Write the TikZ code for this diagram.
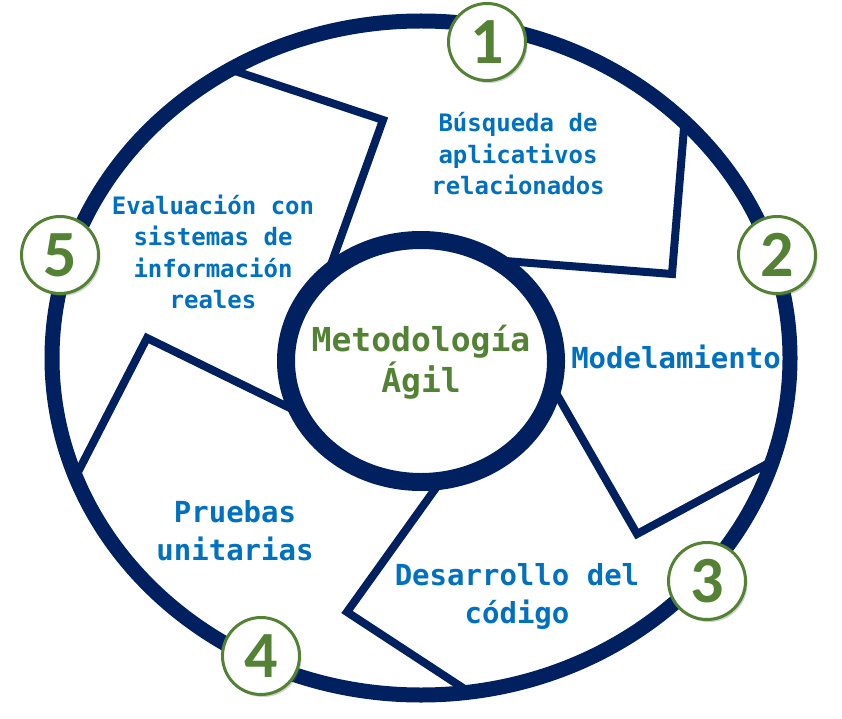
\documentclass[tikz,border=0pt]{standalone}
\usepackage{fontspec}
\newfontfamily\monof{DejaVu Sans Mono}
\newfontfamily\numf{Carlito}
\usetikzlibrary{shadows}
\definecolor{navy}{HTML}{002060}
\definecolor{txtblue}{HTML}{0070C0}
\definecolor{lgreen}{HTML}{548235}
\begin{document}
\begin{tikzpicture}[x=1pt,y=-1pt,
  sepline/.style={draw=navy,line width=8pt,line join=miter},
  numc/.style={circle,draw=lgreen,line width=3pt,fill=white,minimum size=77pt,inner sep=0pt,
     font=\numf\bfseries\fontsize{66}{66}\selectfont,text=lgreen,
     drop shadow={opacity=0.3,shadow xshift=2pt,shadow yshift=-2.5pt,fill=black!60}},
  lbl/.style={align=center,text=txtblue,inner sep=0pt,font=\monof\bfseries\fontsize{24}{31.5}\selectfont},
  lblbig/.style={align=center,text=txtblue,inner sep=0pt,font=\monof\bfseries\fontsize{29}{38}\selectfont},
  core/.style={align=center,text=lgreen,inner sep=0pt,font=\monof\bfseries\fontsize{33}{41}\selectfont}]
\useasboundingbox (0,0) rectangle (842,719);
\fill[white] (0,0) rectangle (842,719);

% boundary coordinates: inner end, notch, outer end
\coordinate (b1i) at (318.6,299.2); \coordinate (b1n) at (383,120); \coordinate (b1o) at (194.5,57.6);
\coordinate (b2i) at (456.4,257.2); \coordinate (b2n) at (672,274); \coordinate (b2o) at (687.6,84.2);
\coordinate (b3i) at (529.2,346.4); \coordinate (b3n) at (637,534); \coordinate (b3o) at (806,443);
\coordinate (b4i) at (467.4,444);   \coordinate (b4n) at (347,612); \coordinate (b4o) at (497.8,710.8);
\coordinate (b5i) at (347.2,436);   \coordinate (b5n) at (147,338); \coordinate (b5o) at (57.3,512.2);

\begin{scope}
  \clip (421,358) ellipse [x radius=369,y radius=337];
  \draw[sepline] (b1i) -- (b1n) -- (b1o);
  \draw[sepline] (b2i) -- (b2n) -- (b2o);
  \draw[sepline] (b3i) -- (b3n) -- (b3o);
  \draw[sepline] (b4i) -- (b4n) -- (b4o);
  \draw[sepline] (b5i) -- (b5n) -- (b5o);
\end{scope}

% outer ring and inner ring
\draw[navy,line width=15pt] (421,358) ellipse [x radius=369,y radius=337];
\filldraw[fill=white,draw=navy,line width=18pt] (421,361) ellipse [x radius=135,y radius=121];

% centre text
\node[core] (center) at (421,362) {Metodología\\Ágil};

% step labels
\node[lbl] (t1) at (518,154) {Búsqueda de\\aplicativos\\relacionados};
\node[lblbig] (t2) at (676,357) {Modelamiento};
\node[lblbig] (t3) at (517,596) {Desarrollo del\\código};
\node[lblbig] (t4) at (235,531) {Pruebas\\unitarias};
\node[lbl] (t5) at (213,252) {Evaluación con\\sistemas de\\información\\reales};

% number badges
\node[numc] (n1) at (487,42) {1};
\node[numc] (n2) at (777,255) {2};
\node[numc] (n3) at (707,581) {3};
\node[numc] (n4) at (261,656) {4};
\node[numc] (n5) at (60,255) {5};
\end{tikzpicture}
\end{document}
